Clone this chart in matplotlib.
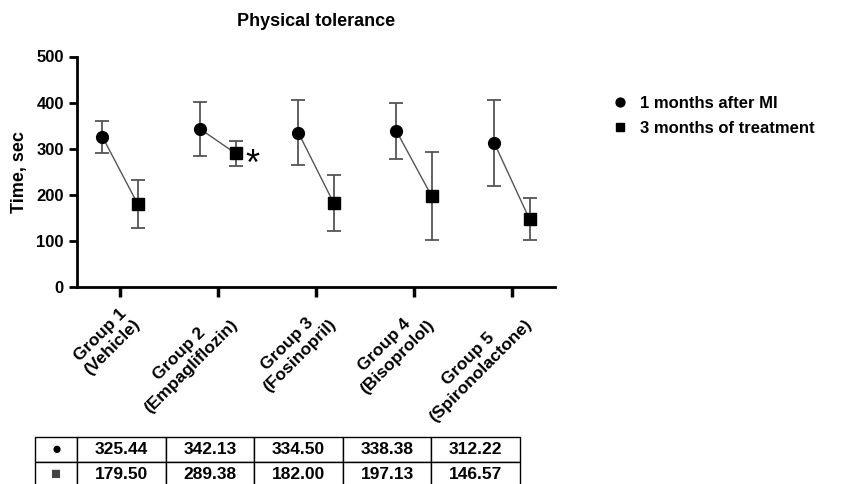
import numpy as np
import matplotlib
matplotlib.use("Agg")
from matplotlib import pyplot as plt

plt.rcParams['font.family'] = ['Liberation Sans', 'DejaVu Sans']
plt.rcParams['font.weight'] = 'bold'
plt.rcParams['axes.titleweight'] = 'bold'
plt.rcParams['axes.labelweight'] = 'bold'

groups = ["Group 1\n(Vehicle)", "Group 2\n(Empagliflozin)", "Group 3\n(Fosinopril)",
          "Group 4\n(Bisoprolol)", "Group 5\n(Spironolactone)"]
after_mi = [325.44, 342.13, 334.50, 338.38, 312.22]
after_mi_err = [34, 58, 70, 61, 94]
treatment = [179.50, 289.38, 182.00, 197.13, 146.57]
treatment_err = [53, 28, 60, 95, 46]
labels = ["1 months after MI", "3 months of treatment"]

W, H = 858, 484
fig = plt.figure(figsize=(W / 100, H / 100), dpi=100)
ax = fig.add_axes([77 / W, 1 - 286.7 / H, (555 - 77) / W, (286.7 - 56.5) / H])

x = np.arange(len(groups))
off = 0.18
grey = '#555555'
for i in range(len(groups)):
    ax.plot([x[i] - off, x[i] + off], [after_mi[i], treatment[i]], color=grey, lw=1.0, zorder=1)
ax.errorbar(x - off, after_mi, yerr=after_mi_err, fmt='o', color='black', ms=8.5,
            ecolor=grey, elinewidth=1.3, capsize=5, capthick=1.3, label=labels[0], zorder=3)
ax.errorbar(x + off, treatment, yerr=treatment_err, fmt='s', color='black', ms=8.5,
            ecolor=grey, elinewidth=1.3, capsize=5, capthick=1.3, label=labels[1], zorder=3)
ax.text(x[1] + off + 0.1, treatment[1] - 25, '*', fontsize=26, va='center', ha='left',
        fontweight='normal')

ax.set_xlim(-0.44, 4.44)
ax.set_ylim(0, 500)
ax.set_yticks([0, 100, 200, 300, 400, 500])
ax.set_xticks(x)
ax.set_xticklabels(groups, rotation=45, ha='right', rotation_mode='anchor',
                   multialignment='center', fontsize=12.5)
ax.tick_params(axis='y', labelsize=12, width=2, length=6)
ax.tick_params(axis='x', width=2.5, length=7, pad=6)
for s in ['top', 'right']:
    ax.spines[s].set_visible(False)
for s in ['left', 'bottom']:
    ax.spines[s].set_linewidth(2)
ax.set_ylabel('Time, sec', fontsize=13, labelpad=6)
ax.set_title('Physical tolerance', fontsize=13, pad=22)

h, l = ax.get_legend_handles_labels()
h = [hh[0] for hh in h]
fig.legend(h, l, loc='upper left', bbox_to_anchor=(595 / W, 1 - 81 / H), frameon=False,
           fontsize=12, handletextpad=0.6, labelspacing=0.6, markerscale=0.75, handlelength=1.2)

# table under the chart
tab_ax = fig.add_axes([35 / W, 1 - 487 / H, (520 - 35) / W, 50 / H])
tab_ax.axis('off')
cells = [['\u25CF'] + ['%.2f' % v for v in after_mi],
         ['\u25A0'] + ['%.2f' % v for v in treatment]]
tbl = tab_ax.table(cellText=cells, bbox=[0, 0, 1, 1], cellLoc='center',
                   colWidths=[42] + [88] * 5)
tbl.auto_set_font_size(False)
tbl.set_fontsize(12.5)
for (r, c), cell in tbl.get_celld().items():
    cell.set_linewidth(1.0)
    cell.get_text().set_fontweight('bold')
    if c == 0:
        cell.get_text().set_fontsize(12)
        if r == 1:
            cell.get_text().set_color('#444444')

fig.savefig('out.png', dpi=100)
